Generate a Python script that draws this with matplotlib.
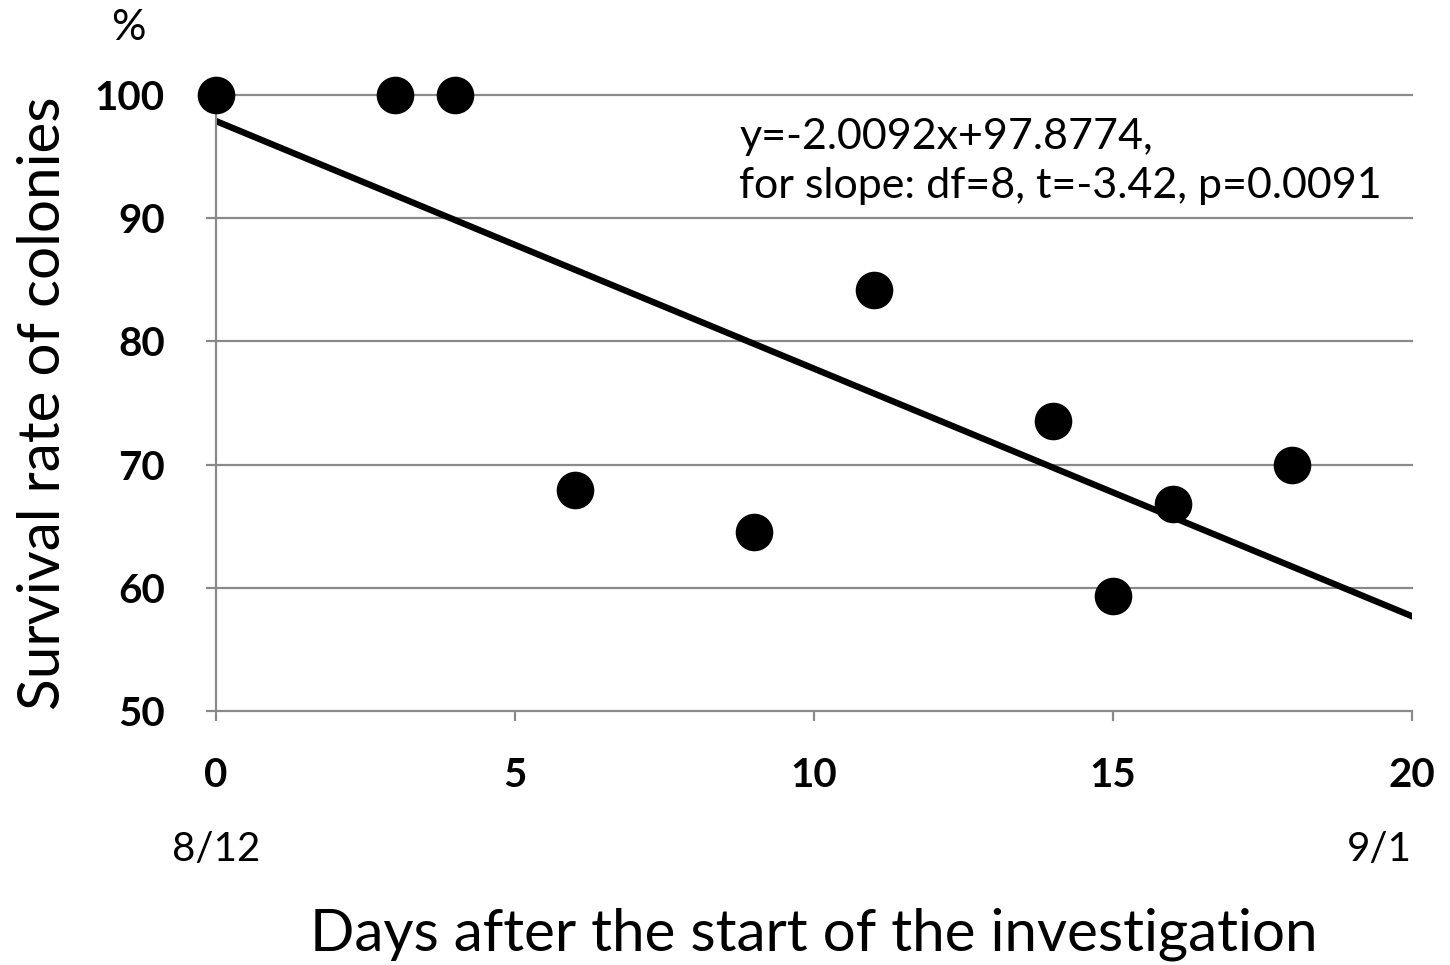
import matplotlib

matplotlib.use("Agg")

import matplotlib.pyplot as plt
import matplotlib.transforms as mtransforms

plt.rcParams["font.family"] = ["Lato", "DejaVu Sans"]

days = [0, 3, 4, 6, 9, 11, 14, 15, 16, 18]
survival = [100, 100, 100, 67.9, 64.5, 84.2, 73.5, 59.3, 66.8, 70.0]

slope = -2.0092
intercept = 97.8774
fit_x = [0, 20]

x_ticks = [0, 5, 10, 15, 20]
y_ticks = [50, 60, 70, 80, 90, 100]
date_labels = {0: "8/12", 20: "9/1"}

GRID = "#8a8a8a"

fig = plt.figure(figsize=(14.5, 9.65), dpi=100)
ax = fig.add_axes([0.149, 0.2632, 0.8248, 0.6384])

ax.set_xlim(0, 20)
ax.set_ylim(50, 100)
ax.set_xticks(x_ticks)
ax.set_yticks(y_ticks)

for y in y_ticks[1:]:
    ax.axhline(y, color=GRID, lw=1.6, zorder=1, clip_on=False)

ax.plot(fit_x, [slope * x + intercept for x in fit_x], color="black", lw=4.6, zorder=2)
ax.scatter(days, survival, s=680, color="black", zorder=3, clip_on=False)

for side in ["top", "right"]:
    ax.spines[side].set_visible(False)
for side in ["left", "bottom"]:
    ax.spines[side].set_color(GRID)
    ax.spines[side].set_linewidth(1.6)

ax.tick_params(axis="both", colors=GRID, width=1.6, length=7, direction="out")
ax.tick_params(axis="x", pad=26, labelcolor="black", labelsize=29)
ax.tick_params(axis="y", pad=30, labelcolor="black", labelsize=29)
for lab in ax.get_xticklabels() + ax.get_yticklabels():
    lab.set_fontweight("bold")

ax.set_ylabel("Survival rate of colonies", fontsize=42, labelpad=18)
ax.set_xlabel("Days after the start of the investigation", fontsize=42, labelpad=82)

trans = mtransforms.blended_transform_factory(ax.transData, ax.transAxes)
ax.text(0, -0.225, date_labels[0], transform=trans, ha="center", va="center", fontsize=29)
ax.text(20, -0.225, date_labels[20], transform=trans, ha="right", va="center", fontsize=29)

fig.text(128 / 1450, 1 - 28 / 965, "%", ha="center", va="center", fontsize=31)

ax.text(8.75, 94.6, "y=-2.0092x+97.8774,\nfor slope: df=8, t=-3.42, p=0.0091",
        ha="left", va="center", fontsize=31, linespacing=1.35)

fig.savefig("out.png", dpi=100)
